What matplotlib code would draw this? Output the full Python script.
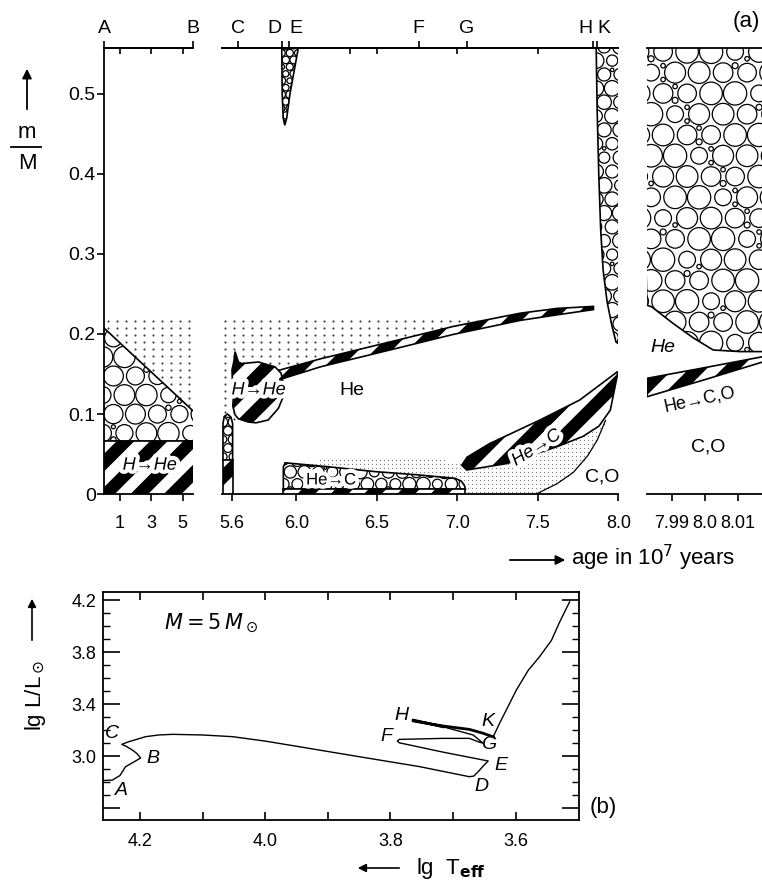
import numpy as np
import matplotlib
matplotlib.use('Agg')
import matplotlib.pyplot as plt
import matplotlib.patheffects as pe
from matplotlib.patches import Polygon, Circle, FancyArrowPatch
from matplotlib.collections import PatchCollection
from matplotlib.path import Path

plt.rcParams['font.family'] = ['Liberation Sans', 'DejaVu Sans']
plt.rcParams['mathtext.fontset'] = 'dejavusans'
plt.rcParams['hatch.linewidth'] = 9
plt.rcParams['axes.linewidth'] = 1.3

# ---- (a) m/M against age (10^7 yr) ----
# main sequence part
ms_age = [0.0, 5.65]
ms_burn_top = [0.066, 0.066]      # H -> He core
ms_conv_top = [0.2075, 0.103]     # convective core
ms_mix_top = [0.2175, 0.2175]     # dotted zone of varying H

# after the main sequence
hhe_age = [5.600, 5.612, 5.619, 5.640, 5.660, 5.763, 5.867, 5.905, 5.922, 5.915, 5.888,
           5.825, 5.750, 5.700, 5.640, 5.619, 5.605, 5.610, 5.603]
hhe_m = [0.155, 0.166, 0.178, 0.165, 0.163, 0.165, 0.159, 0.151, 0.135, 0.120, 0.107,
         0.0925, 0.089, 0.090, 0.094, 0.099, 0.110, 0.125, 0.140]

shell_age = [5.88, 6.15, 6.56, 6.975, 7.39, 7.62, 7.845]
shell_m = [0.148, 0.164, 0.184, 0.2045, 0.2215, 0.228, 0.2325]
shell_dm = [0.012, 0.010, 0.010, 0.010, 0.009, 0.008, 0.004]

mix_age = [5.544, 7.33, 6.975, 6.56, 6.15, 5.90, 5.62, 5.544]
mix_m = [0.218, 0.218, 0.2045, 0.184, 0.164, 0.149, 0.090, 0.100]

small_core_age = [5.544, 5.544, 5.552, 5.572, 5.594, 5.604, 5.604]
small_core_m = [0.042, 0.088, 0.097, 0.100, 0.096, 0.088, 0.042]

tongue_age = [5.909, 5.912, 5.918, 5.928, 5.940, 5.960, 6.012]
tongue_m = [0.5575, 0.50, 0.47, 0.461, 0.47, 0.50, 0.5575]

hec_age = [5.919, 5.919, 5.930, 6.200, 6.488, 6.750, 6.985, 7.025, 7.045, 7.050]
hec_m = [0.006, 0.034, 0.039, 0.034, 0.028, 0.024, 0.0196, 0.016, 0.010, 0.006]

fine_age = [5.99, 6.30, 6.90, 7.03, 7.06, 7.306, 7.617, 7.78, 7.92, 7.87, 7.81, 7.72, 7.62, 7.49, 5.99]
fine_m = [0.038, 0.047, 0.044, 0.038, 0.030, 0.038, 0.059, 0.072, 0.092, 0.068, 0.048, 0.027, 0.013, 0.0, 0.0]

hc_up_age = [7.027, 7.06, 7.20, 7.513, 7.76, 7.995]
hc_up_m = [0.036, 0.046, 0.063, 0.0925, 0.1175, 0.153]
hc_lo_age = [7.027, 7.058, 7.306, 7.617, 7.78, 7.88, 7.95, 7.995]
hc_lo_m = [0.036, 0.030, 0.038, 0.059, 0.072, 0.085, 0.105, 0.150]

co_edge_age = [7.49, 7.62, 7.72, 7.81, 7.87, 7.92]
co_edge_m = [0.0, 0.013, 0.027, 0.048, 0.068, 0.092]

env_age = [7.862, 7.868, 7.878, 7.890, 7.905, 7.930, 7.960, 7.985, 8.0]
env_m = [0.5575, 0.48, 0.40, 0.33, 0.28, 0.24, 0.21, 0.19, 0.188]

# blow-up near 8.0
env3_age = [7.9824, 7.9838, 7.9904, 7.9965, 8.0025, 8.0106, 8.0175]
env3_m = [0.236, 0.234, 0.213, 0.195, 0.180, 0.178, 0.178]
shell3_age = [7.9824, 8.0, 8.0175]
shell3_top = [0.1446, 0.158, 0.1716]
shell3_bot = [0.1216, 0.143, 0.165]

# ---- (b) HR diagram, M = 5 Msun ----
track_teff = [4.258, 4.244, 4.232, 4.223, 4.207, 4.199, 4.205, 4.212, 4.222, 4.229, 4.218,
              4.191, 4.170, 4.148, 4.100, 4.052, 4.000, 3.946, 3.850, 3.754, 3.674, 3.667,
              3.660, 3.652, 3.644, 3.716, 3.786, 3.789, 3.786, 3.716, 3.674, 3.660, 3.652,
              3.668, 3.716, 3.764, 3.764, 3.716, 3.674, 3.652, 3.636, 3.626, 3.599, 3.580,
              3.562, 3.543, 3.530, 3.514]
track_lum = [2.812, 2.815, 2.850, 2.918, 2.962, 2.985, 3.020, 3.046, 3.075, 3.090, 3.110,
             3.149, 3.162, 3.167, 3.162, 3.149, 3.115, 3.072, 2.995, 2.919, 2.841, 2.846,
             2.879, 2.923, 2.962, 3.030, 3.102, 3.115, 3.128, 3.136, 3.136, 3.110, 3.098,
             3.162, 3.225, 3.277, 3.270, 3.231, 3.205, 3.175, 3.148, 3.250, 3.508, 3.660,
             3.764, 3.890, 4.030, 4.186]

W, H = 762, 888
fig = plt.figure(figsize=(W / 100, H / 100), dpi=100)


def box(left, right, top, bottom):
    return [left / W, 1 - bottom / H, (right - left) / W, (bottom - top) / H]


SIZES = [1.0, 0.8, 0.93, 0.72, 0.97, 0.84, 0.9]
HALO = [pe.withStroke(linewidth=6, foreground='white')]


def bubbles(ax, age, m, r, z=1.5):
    pts = np.column_stack([age, m])
    region = Polygon(pts, closed=True, facecolor='white', edgecolor='none', zorder=z)
    ax.add_patch(region)
    disp = ax.transData.transform(pts)
    (x0, y0), (x1, y1) = disp.min(axis=0), disp.max(axis=0)
    dy = np.sqrt(3) * r
    grid = {}
    for j in range(int((y1 - y0) / dy) + 3):
        for i in range(int((x1 - x0) / (2 * r)) + 3):
            rr = r * SIZES[(3 * i + 5 * j) % len(SIZES)]
            grid[i, j] = (x0 - r + 2 * r * i + r * (j % 2), y0 - r + dy * j, rr)
    circles = [Circle((cx / fig.dpi, cy / fig.dpi), rr * 0.97 / fig.dpi)
               for cx, cy, rr in grid.values()]
    # smaller bubbles in the gaps between three neighbours
    for (i, j), a in grid.items():
        s = j % 2
        for nb in (((i + 1, j), (i + s, j + 1)), ((i + 1, j), (i + s, j - 1))):
            if nb[0] not in grid or nb[1] not in grid:
                continue
            b, c = grid[nb[0]], grid[nb[1]]
            gx = (a[0] + b[0] + c[0]) / 3
            gy = (a[1] + b[1] + c[1]) / 3
            gr = 2 * r / np.sqrt(3) - max(a[2], b[2], c[2]) - 0.8
            if gr > 0.18 * r:
                circles.append(Circle((gx / fig.dpi, gy / fig.dpi), gr / fig.dpi))
    coll = PatchCollection(circles, facecolor='white', edgecolor='black', linewidths=0.9,
                           transform=fig.dpi_scale_trans, zorder=z + 0.1)
    ax.add_collection(coll, autolim=False)
    coll.set_clip_path(region)
    ax.add_patch(Polygon(pts, closed=True, fill=False, edgecolor='black', lw=1.2, zorder=z + 0.2))


def hatched(ax, age, m, z=1.8):
    ax.add_patch(Polygon(np.column_stack([age, m]), closed=True, facecolor='white',
                         edgecolor='black', hatch='/', lw=1.2, zorder=z))


def dots(ax, age, m, step, size, color):
    disp = ax.transData.transform(np.column_stack([age, m]))
    (x0, y0), (x1, y1) = disp.min(axis=0), disp.max(axis=0)
    x0, y0 = np.floor(x0 / step[0]) * step[0], np.floor(y0 / step[1]) * step[1]
    gx, gy = np.meshgrid(np.arange(x0, x1, step[0]), np.arange(y0, y1, step[1]))
    pts = np.column_stack([gx.ravel(), gy.ravel()])
    pts = pts[Path(disp).contains_points(pts)]
    xy = ax.transData.inverted().transform(pts)
    ax.scatter(xy[:, 0], xy[:, 1], s=size, c=color, lw=0, zorder=1)


def top_letters(ax, ticks, letters, align, minor=()):
    sec = ax.secondary_xaxis('top')
    sec.set_xticks(ticks, letters)
    sec.set_xticks(list(minor), minor=True)
    sec.tick_params(direction='out', length=5, width=1.2, pad=3, labelsize=14)
    sec.tick_params(which='minor', direction='in', length=4, width=1.2)
    for lab, ha in zip(sec.get_xticklabels(), align):
        lab.set_ha(ha)
    sec.spines['top'].set_linewidth(1.3)


YLIM = (0, 0.5575)
ax1 = fig.add_axes(box(104, 193, 48, 494))
ax2 = fig.add_axes(box(222, 618.4, 48, 494))
ax3 = fig.add_axes(box(647, 762, 48, 494))
for ax, xl in ((ax1, (0, 5.651)), (ax2, (5.538, 8.0)), (ax3, (7.9824, 8.0173))):
    ax.set_xlim(*xl)
    ax.set_ylim(*YLIM)
    ax.patch.set_alpha(0)
    ax.spines['right'].set_visible(False)
    ax.tick_params(axis='x', direction='out', length=5, width=1.2, labelsize=13, pad=10, top=False)
ax2.spines['left'].set_visible(False)
ax3.spines['left'].set_visible(False)
ax2.set_yticks([])
ax3.set_yticks([])

ax1.set_yticks([0, 0.1, 0.2, 0.3, 0.4, 0.5], ['0', '0.1', '0.2', '0.3', '0.4', '0.5'])
ax1.tick_params(axis='y', direction='out', length=5, width=1.2, labelsize=14, pad=1)
ax1.set_xticks([1, 3, 5], ['1', '3', '5'])
ax2.set_xticks([5.6, 6.0, 6.5, 7.0, 7.5, 8.0], ['5.6', '6.0', '6.5', '7.0', '7.5', '8.0'])
ax3.set_xticks([7.99, 8.0, 8.01], ['7.99', '8.0', '8.01'])

top_letters(ax1, [0, 5.651], ['A', 'B'], ['center', 'center'], minor=[1, 3, 5])
top_letters(ax2, [5.64, 5.91, 5.955, 6.76, 7.06, 7.84, 7.87],
            ['C', 'D', 'E', 'F', 'G', 'H', 'K'],
            ['center', 'right', 'left', 'center', 'center', 'right', 'left'],
            minor=[6.33, 6.5, 7.0, 7.5])

# main sequence segment
x = np.array(ms_age) + np.array([-0.1, 0.1])
dots(ax1, [0, 5.7, 5.7, 0], [ms_conv_top[0], ms_conv_top[1] - 0.001, ms_mix_top[1], ms_mix_top[0]],
     (9, 7), 2.4, '0.25')
bubbles(ax1, [x[0], x[1], x[1], x[0]],
        [ms_burn_top[0], ms_burn_top[1], ms_conv_top[1] - 0.0009, ms_conv_top[0] + 0.0018], 11)
hatched(ax1, [x[0], x[1], x[1], x[0]], [-0.01, -0.01, ms_burn_top[1], ms_burn_top[0]])
ax1.text(2.9, 0.036, 'H→He', fontsize=13, style='italic', ha='center', va='center', zorder=3,
         path_effects=HALO)

# later phases
dots(ax2, mix_age, mix_m, (9, 7), 2.4, '0.25')
dots(ax2, fine_age, fine_m, (4, 4), 0.9, '0.5')
bubbles(ax2, small_core_age, small_core_m, 5)
hatched(ax2, [5.544, 5.604, 5.604, 5.544], [-0.01, -0.01, small_core_m[0], small_core_m[0]])
bubbles(ax2, tongue_age, tongue_m, 4)
bubbles(ax2, hec_age, hec_m, 7)
hatched(ax2, [hec_age[0], hec_age[-1], hec_age[-1], hec_age[0]], [-0.01, -0.01, hec_m[-1], hec_m[0]])
bubbles(ax2, env_age + [8.02, 8.02], env_m + [env_m[-1], 0.6], 8)

sa, sm, sd = np.array(shell_age), np.array(shell_m), np.array(shell_dm)
hatched(ax2, np.r_[sa, sa[::-1]], np.r_[sm + sd / 2, (sm - sd / 2)[::-1]])
hatched(ax2, hhe_age, hhe_m)
hatched(ax2, hc_up_age + hc_lo_age[::-1], hc_up_m + hc_lo_m[::-1])
ax2.plot(co_edge_age, co_edge_m, color='black', lw=0.9, zorder=1.9)

ax2.text(5.765, 0.13, 'H→He', fontsize=13, style='italic', ha='center', va='center', zorder=3,
         path_effects=HALO)
ax2.text(6.342, 0.13, 'He', fontsize=14, ha='center', va='center')
ax2.text(6.215, 0.0175, 'He→C', fontsize=12, ha='center', va='center', zorder=3,
         path_effects=HALO)
ax2.text(7.49, 0.0575, 'He→C', fontsize=13, style='italic', rotation=32, ha='center',
         va='center', zorder=3, path_effects=HALO)
ax2.text(7.898, 0.021, 'C,O', fontsize=14, ha='center', va='center')

# blow-up
bubbles(ax3, env3_age + [8.03, 8.03, 7.98], env3_m + [env3_m[-1], 0.6, 0.6], 12)
hatched(ax3, shell3_age + [8.03, 8.03] + shell3_age[::-1],
        shell3_top + [shell3_top[-1], shell3_bot[-1]] + shell3_bot[::-1])
ax3.text(7.9873, 0.1825, 'He', fontsize=14, style='italic', ha='center', va='center')
ax3.text(7.9985, 0.118, 'He→C,O', fontsize=13, rotation=12, ha='center', va='center')
ax3.text(8.0009, 0.059, 'C,O', fontsize=14, ha='center', va='center')

fig.text(760 / W, 1 - 22 / H, '(a)', fontsize=16, ha='right', va='center')
fig.text(27 / W, 1 - 133 / H, 'm', fontsize=16, ha='center', va='center')
fig.text(27 / W, 1 - 163 / H, 'M', fontsize=16, ha='center', va='center')
fig.add_artist(plt.Line2D([11 / W, 41 / W], [1 - 147 / H, 1 - 147 / H], color='black', lw=1.3))
fig.add_artist(FancyArrowPatch((27 / W, 1 - 112 / H), (27 / W, 1 - 66 / H), transform=fig.transFigure,
                               arrowstyle='-|>', mutation_scale=14, lw=1.3, color='black'))
fig.add_artist(FancyArrowPatch((507 / W, 1 - 560 / H), (568 / W, 1 - 560 / H), transform=fig.transFigure,
                               arrowstyle='-|>', mutation_scale=14, lw=1.3, color='black'))
fig.text(571 / W, 1 - 558 / H, 'age in 10$^7$ years', fontsize=16, ha='left', va='center')

# ---- (b) ----
ax4 = fig.add_axes(box(103, 579, 592, 820))
ax4.set_xlim(4.259, 3.499)
ax4.set_ylim(2.508, 4.262)
ax4.plot(track_teff, track_lum, color='black', lw=1.0)
ax4.plot(track_teff[34:41], track_lum[34:41], color='black', lw=2.0)
ax4.set_xticks([4.2, 4.1, 4.0, 3.9, 3.8, 3.7, 3.6], ['4.2', '', '4.0', '', '3.8', '', '3.6'])
ax4.set_yticks([2.6, 3.0, 3.4, 3.8, 4.2], ['', '3.0', '3.4', '3.8', '4.2'])
ax4.set_yticks(np.arange(2.6, 4.25, 0.1), minor=True)
ax4.tick_params(axis='x', direction='in', length=6, width=1.2, top=True, labelsize=13, pad=9)
ax4.tick_params(axis='y', direction='in', length=12, width=1.2, right=True, labelsize=13, pad=5)
ax4.tick_params(axis='y', which='minor', direction='in', length=5, width=1.0, right=True)

for lab, t, l in (('A', 4.2295, 2.738), ('B', 4.179, 2.982), ('C', 4.244, 3.175),
                  ('D', 3.655, 2.764), ('E', 3.623, 2.931), ('F', 3.807, 3.149),
                  ('G', 3.644, 3.085), ('H', 3.783, 3.315), ('K', 3.644, 3.264)):
    ax4.text(t, l, lab, fontsize=14, style='italic', ha='center', va='center')
ax4.text(4.086, 4.023, r'$M = 5\,M_\odot$', fontsize=15, ha='center', va='center')

fig.text(603 / W, 1 - 807 / H, '(b)', fontsize=16, ha='center', va='center')
fig.text(35 / W, 1 - 695 / H, r'lg L/L$_\odot$', fontsize=16, rotation=90, ha='center', va='center')
fig.add_artist(FancyArrowPatch((32 / W, 1 - 643 / H), (32 / W, 1 - 596 / H), transform=fig.transFigure,
                               arrowstyle='-|>', mutation_scale=12, lw=1.2, color='black'))
fig.add_artist(FancyArrowPatch((402 / W, 1 - 868 / H), (355 / W, 1 - 868 / H), transform=fig.transFigure,
                               arrowstyle='-|>', mutation_scale=12, lw=1.2, color='black'))
fig.text(416 / W, 1 - 868 / H, r'lg  T$_{\mathbf{eff}}$', fontsize=16, ha='left', va='center')

fig.savefig('out.png', dpi=100)
